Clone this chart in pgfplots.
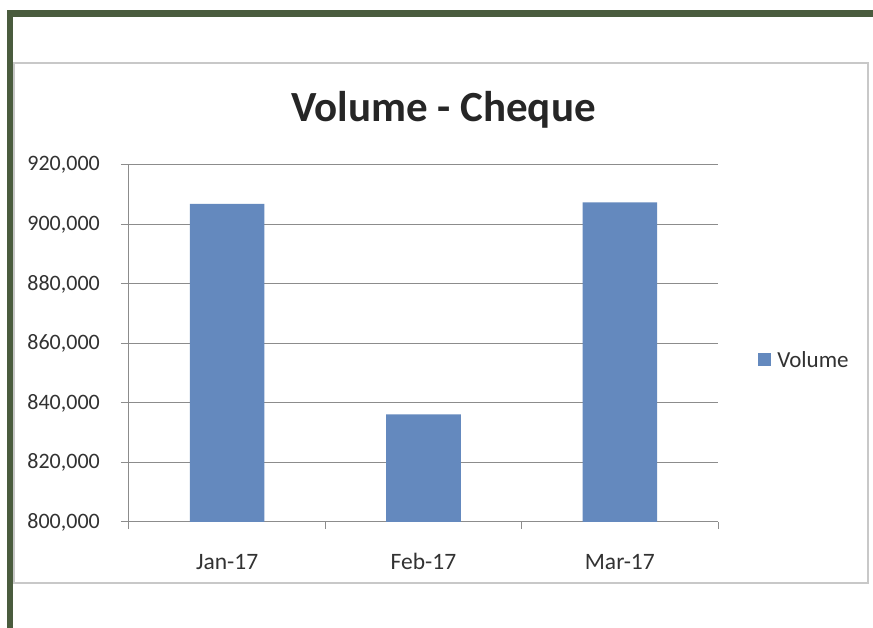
\documentclass[border=0pt]{standalone}
\usepackage{pgfplots}
\pgfplotsset{compat=1.18}
\usepackage{fontspec}
\setmainfont{Carlito}
\definecolor{barblue}{RGB}{100,137,190}
\definecolor{darkgreen}{RGB}{74,92,62}
\definecolor{gridgray}{RGB}{140,140,140}
\definecolor{framegray}{RGB}{200,200,200}
\definecolor{textgray}{RGB}{50,50,50}
\begin{document}
\begin{tikzpicture}[x=1pt,y=1pt]
\useasboundingbox (-129,-106) rectangle (744,522);
\fill[white] (-129,-106) rectangle (744,522);
\fill[darkgreen] (-122,-106) rectangle (-116,512);
\fill[darkgreen] (-122,512) rectangle (744,505);
\draw[framegray, line width=1.5pt] (-115,459) rectangle (739,-61);
\begin{axis}[
  at={(0pt,0pt)}, anchor=south west,
  scale only axis, width=589pt, height=357pt,
  xmin=-0.5, xmax=2.5, ymin=800000, ymax=920000,
  ytick={800000,820000,840000,860000,880000,900000,920000},
  scaled y ticks=false,
  /pgf/number format/.cd, fixed, 1000 sep={,}, assume math mode=true,
  /pgfplots/.cd,
  xtick={0,1,2}, xticklabels={Jan-17,Feb-17,Mar-17},
  minor xtick={-0.5,0.5,1.5,2.5},
  major x tick style={draw=none},
  tick align=outside,
  major tick length=8pt, minor tick length=7pt,
  tick style={gridgray, line width=1pt},
  axis x line*=bottom, axis y line*=left,
  axis line style={gridgray, line width=1pt},
  ymajorgrids, grid style={gridgray, line width=1pt},
  ticklabel style={text=textgray},
  xticklabel style={font=\fontsize{23.5}{28}\selectfont, anchor=base, inner sep=0pt, yshift=-40pt},
  yticklabel style={font=\fontsize{22}{26}\selectfont, anchor=east, inner sep=0pt, xshift=-21pt},
  legend style={at={(1.068,0.454)}, anchor=west, draw=none, fill=none, inner sep=0pt,
    font=\fontsize{23}{27}\selectfont, text=textgray,
    nodes={inner sep=0pt},
    /tikz/every odd column/.append style={column sep=6pt}},
  legend image code/.code={\fill[barblue] (0pt,-6.5pt) rectangle (13pt,6.5pt);},
]
\addplot[ybar, bar width=0.38, fill=barblue, draw=none]
  coordinates {(0,906900) (1,836200) (2,907450)};
\addlegendentry{Volume}
\end{axis}
\node[anchor=base, font=\fontsize{43}{50}\selectfont\bfseries, text=black!85] at (314.5,400) {Volume - Cheque};
\end{tikzpicture}
\end{document}
